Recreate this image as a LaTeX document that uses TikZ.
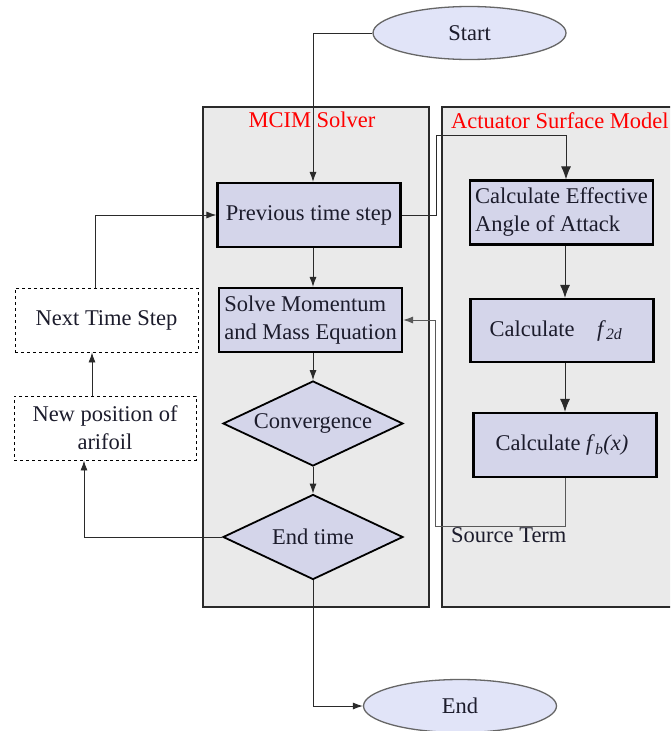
\documentclass[tikz,border=0pt]{standalone}
\usepackage{fontspec}
\setmainfont{LiberationSerif}[Extension=.ttf, UprightFont=*-Regular, ItalicFont=*-Italic, BoldFont=*-Bold]
\usetikzlibrary{shapes.geometric,arrows.meta}
\definecolor{panelfill}{HTML}{EAEAEA}
\definecolor{boxfill}{HTML}{D4D5EA}
\definecolor{ellfill}{HTML}{E1E4F8}
\definecolor{txt}{HTML}{1C1C2C}
\definecolor{linec}{HTML}{2A2A2A}
\tikzset{
  every node/.style={font=\fontsize{22.5}{28}\selectfont, text=txt},
  panel/.style={draw=linec, line width=1.3pt, fill=panelfill, rectangle, inner sep=0pt},
  procbox/.style={draw=black, line width=2.2pt, fill=boxfill, rectangle, minimum width=183pt, minimum height=64pt, inner sep=3pt},
  decbox/.style={draw=black, line width=1.8pt, fill=boxfill, diamond, minimum width=180pt, minimum height=85pt, inner sep=0pt, shape aspect=2.1},
  dashbox/.style={draw=black, dashed, line width=0.9pt, fill=white, rectangle, minimum width=183pt, minimum height=64pt, inner sep=3pt, align=center},
  term/.style={draw=gray!80!black, line width=1.3pt, fill=ellfill, ellipse, minimum width=193pt, minimum height=53pt},
  conn/.style={draw=linec, line width=0.9pt, -{Latex[length=10pt,width=7pt]}},
  bigconn/.style={draw=linec, line width=1pt, -{Latex[length=13pt,width=10pt]}},
  redlab/.style={text=red, inner sep=0pt}
}
\begin{document}
\begin{tikzpicture}[x=1pt,y=-1pt]
\clip (0,0) rectangle (670,731);
\fill[white] (0,0) rectangle (670,731);
% panels
\node[panel, minimum width=226pt, minimum height=500pt] (pA) at (316,357) {};
\node[panel, minimum width=250pt, minimum height=500pt] (pB) at (567,357) {};
\node[redlab] (labA) at (312,120) {MCIM Solver};
\node[redlab, anchor=west] (labB) at (451,121) {Actuator Surface Model};
% terminals
\node[term] (start) at (469.5,33) {Start};
\node[term] (end) at (460,706) {End};
% MCIM boxes
\node[procbox] (prev) at (309,215) {Previous time step};
\node[procbox, align=left] (solve) at (310.5,320) {Solve Momentum\\and Mass Equation};
\node[decbox] (conv) at (313,423.5) {Convergence};
\node[decbox] (endt) at (313,537) {End time};
% actuator boxes
\node[procbox, align=left] (calceff) at (561.5,212.5) {Calculate Effective\\Angle of Attack};
\node[procbox, minimum height=63pt] (f2d) at (562,330.5) {Calculate\quad\textit{f}\textsubscript{\textit{2d}}\hspace*{12pt}};
\node[procbox] (fb) at (565,445) {Calculate \textit{f}\textsubscript{\textit{b}}\textit{(x)}\hspace*{6pt}};
% dashed boxes
\node[dashbox] (next) at (106.5,320) {Next Time Step};
\node[dashbox, minimum width=182pt] (newpos) at (105,428) {New position of\\arifoil};
\node[anchor=west, inner sep=0pt] (src) at (451,535) {Source Term};
% connectors
\draw[conn] (start.west) -| ([xshift=4pt]prev.north);
\draw[bigconn] (prev.east) -| (436,135) -| ([xshift=4.5pt]calceff.north);
\draw[conn] ([xshift=4pt]prev.south) -- ([xshift=4pt]prev.south |- solve.north);
\draw[conn] (conv.north |- solve.south) -- (conv.north);
\draw[conn] (conv.south) -- (endt.north);
\draw[bigconn] ([xshift=3pt]f2d.north |- calceff.south) -- ([xshift=3pt]f2d.north);
\draw[bigconn] (fb.north |- f2d.south) -- (fb.north);
\draw[conn, draw=gray!70!black] (fb.south) -- ++(0,48) -| (435,320) -- (solve.east);
\draw[conn] (endt.west) -| ([xshift=-21pt]newpos.south);
\draw[conn] ([xshift=-13pt]newpos.north) -- ([xshift=-13pt]newpos.north |- next.south);
\draw[conn] ([xshift=-11.5pt]next.north) |- (prev.west);
\draw[conn] (endt.south) |- (end.west);
\end{tikzpicture}
\end{document}
